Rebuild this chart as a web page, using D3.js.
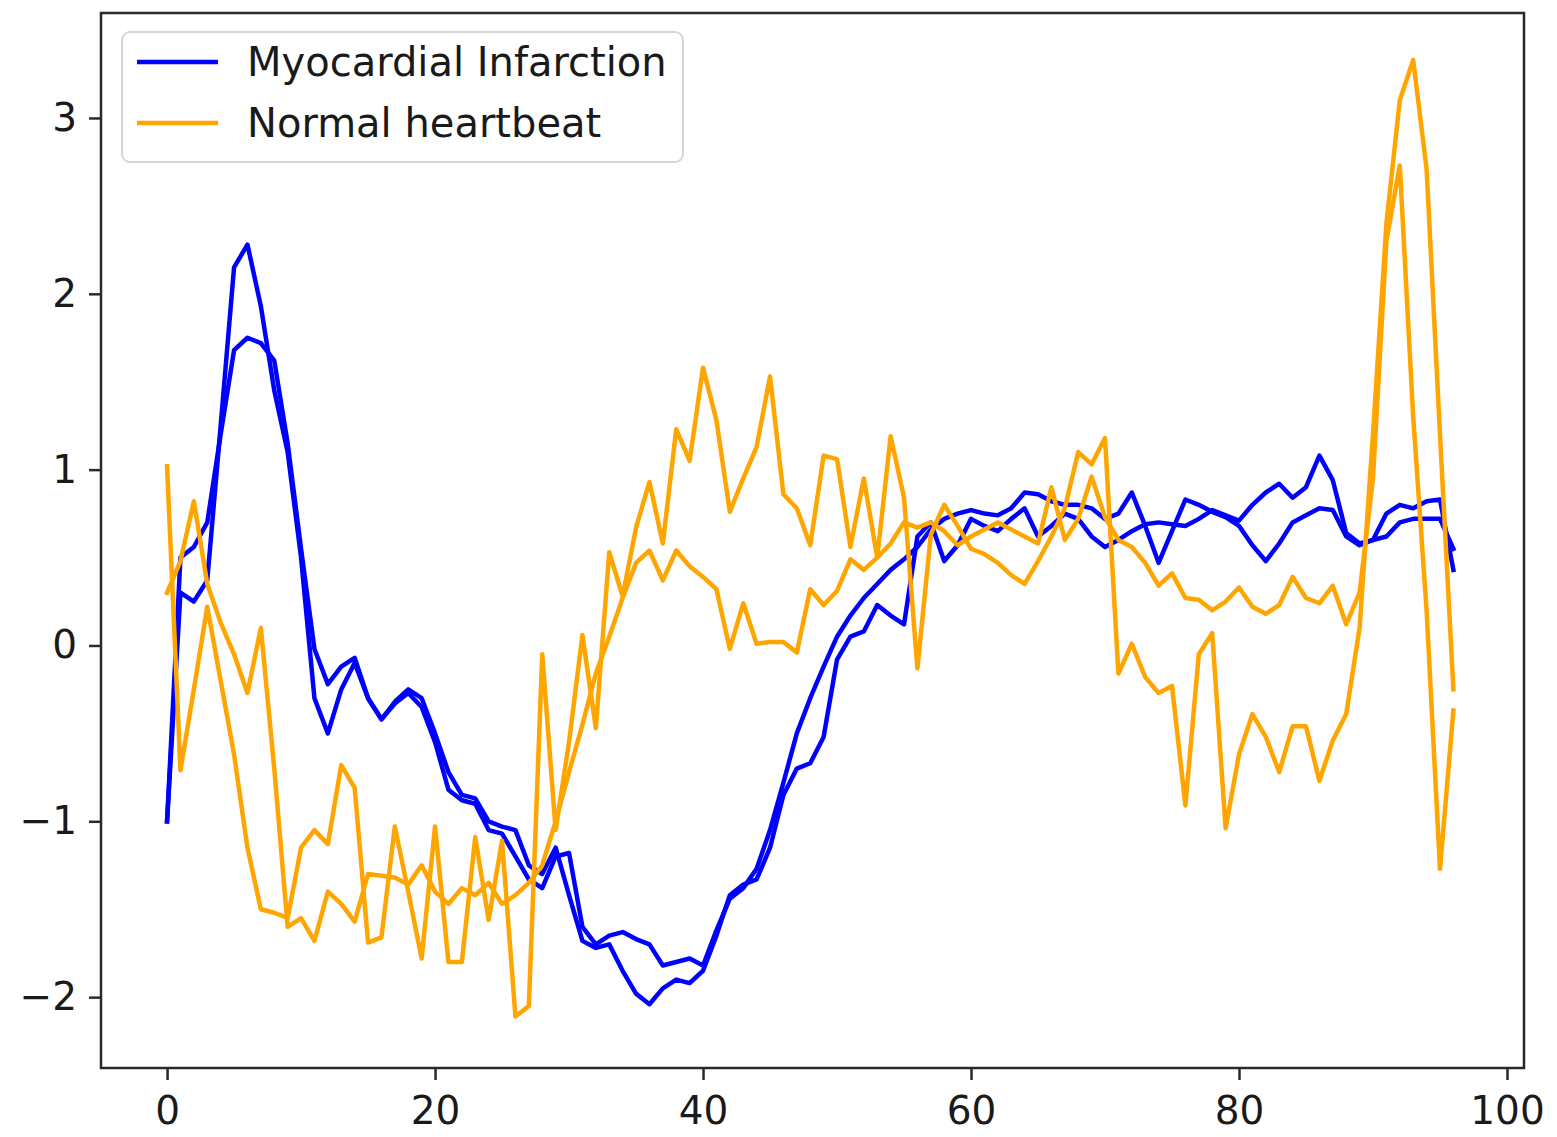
<!DOCTYPE html>
<html>
<head>
<meta charset="utf-8">
<script src="https://cdn.jsdelivr.net/npm/d3@7"></script>
<style>
  html, body { margin: 0; padding: 0; background: #fff; }
  svg { display: block; }
  text { font-family: "DejaVu Sans", sans-serif; fill: #1a1a1a; }
</style>
</head>
<body>
<svg id="chart" width="1557" height="1137"></svg>
<script>
// ---- data ----
const seriesNames = ["Myocardial Infarction", "Normal heartbeat"];
const seriesColors = ["blue", "orange"];

const miSample1 = [-1.0,0.3,0.25,0.37,1.25,2.15,2.28,1.93,1.45,1.1,
  0.5,-0.3,-0.5,-0.25,-0.1,-0.3,-0.42,-0.33,-0.27,-0.35,
  -0.55,-0.82,-0.88,-0.9,-1.05,-1.07,-1.2,-1.33,-1.38,-1.2,
  -1.18,-1.6,-1.7,-1.65,-1.63,-1.67,-1.7,-1.82,-1.8,-1.78,
  -1.82,-1.62,-1.44,-1.38,-1.27,-1.05,-0.78,-0.5,-0.3,-0.12,
  0.05,0.17,0.27,0.35,0.43,0.49,0.56,0.66,0.72,0.75,
  0.77,0.75,0.74,0.78,0.87,0.86,0.82,0.8,0.8,0.78,
  0.72,0.75,0.87,0.68,0.47,0.65,0.83,0.8,0.76,0.73,
  0.68,0.57,0.48,0.58,0.7,0.74,0.78,0.77,0.62,0.57,
  0.6,0.62,0.7,0.72,0.72,0.72,0.55];

const miSample2 = [-1.0,0.5,0.56,0.7,1.2,1.68,1.75,1.72,1.62,1.15,
  0.55,-0.02,-0.22,-0.12,-0.07,-0.3,-0.42,-0.32,-0.25,-0.3,
  -0.5,-0.72,-0.85,-0.87,-1.0,-1.03,-1.05,-1.25,-1.3,-1.15,
  -1.42,-1.68,-1.72,-1.7,-1.85,-1.98,-2.04,-1.95,-1.9,-1.92,
  -1.85,-1.65,-1.42,-1.36,-1.33,-1.15,-0.85,-0.7,-0.67,-0.52,
  -0.08,0.05,0.08,0.23,0.17,0.12,0.62,0.7,0.48,0.57,
  0.72,0.68,0.65,0.72,0.78,0.62,0.68,0.75,0.72,0.62,
  0.56,0.6,0.65,0.69,0.7,0.69,0.68,0.72,0.77,0.74,
  0.71,0.8,0.87,0.92,0.84,0.9,1.08,0.94,0.64,0.58,
  0.6,0.75,0.8,0.78,0.82,0.83,0.43];

const normalSample1 = [1.02,-0.71,-0.25,0.22,-0.2,-0.62,-1.15,-1.5,-1.52,-1.55,
  -1.15,-1.05,-1.13,-0.68,-0.81,-1.69,-1.66,-1.03,-1.4,-1.78,
  -1.03,-1.8,-1.8,-1.09,-1.56,-1.11,-2.11,-2.05,-0.05,-1.05,
  -0.55,0.06,-0.47,0.53,0.28,0.67,0.93,0.58,1.23,1.05,
  1.58,1.28,0.76,0.95,1.13,1.53,0.86,0.78,0.57,1.08,
  1.06,0.56,0.95,0.5,1.19,0.84,-0.13,0.63,0.8,0.68,
  0.55,0.52,0.47,0.4,0.35,0.48,0.62,0.78,1.1,1.03,
  1.18,-0.16,0.01,-0.18,-0.27,-0.23,-0.91,-0.05,0.07,-1.04,
  -0.62,-0.39,-0.52,-0.72,-0.46,-0.46,-0.77,-0.54,-0.39,0.1,
  1.2,2.4,3.1,3.33,2.71,1.2,-0.25];

const normalSample2 = [0.3,0.48,0.82,0.35,0.13,-0.05,-0.27,0.1,-0.7,-1.6,
  -1.55,-1.68,-1.4,-1.47,-1.57,-1.3,-1.31,-1.32,-1.36,-1.25,
  -1.4,-1.47,-1.38,-1.42,-1.35,-1.47,-1.42,-1.35,-1.25,-1.0,
  -0.72,-0.45,-0.16,0.05,0.27,0.47,0.54,0.37,0.54,0.45,
  0.39,0.32,-0.02,0.24,0.01,0.02,0.02,-0.04,0.32,0.23,
  0.31,0.49,0.43,0.5,0.58,0.7,0.67,0.7,0.65,0.57,
  0.62,0.66,0.7,0.66,0.62,0.58,0.9,0.6,0.72,0.96,
  0.73,0.6,0.56,0.47,0.34,0.41,0.27,0.26,0.2,0.25,
  0.33,0.22,0.18,0.23,0.39,0.27,0.24,0.34,0.12,0.3,
  0.95,2.3,2.73,1.3,0.2,-1.27,-0.37];

const xTicks = [0, 20, 40, 60, 80, 100];
const yTicks = [-2, -1, 0, 1, 2, 3];

// ---- layout ----
const plot = { left: 101, right: 1524, top: 13, bottom: 1068 };
const fontSize = 39;
const svg = d3.select("#chart");

const x = d3.scaleLinear().domain([-4.93, 101.27]).range([plot.left, plot.right]);
const y = d3.scaleLinear().domain([-2.403, 3.597]).range([plot.bottom, plot.top]);

const lines = [
  { values: miSample1, color: seriesColors[0] },
  { values: miSample2, color: seriesColors[0] },
  { values: normalSample1, color: seriesColors[1] },
  { values: normalSample2, color: seriesColors[1] }
];

const lineGen = d3.line().x((d, i) => x(i)).y(d => y(d));

const clipId = "plotclip";
svg.append("defs").append("clipPath").attr("id", clipId)
  .append("rect").attr("x", plot.left).attr("y", plot.top)
  .attr("width", plot.right - plot.left).attr("height", plot.bottom - plot.top);

svg.append("g").attr("clip-path", `url(#${clipId})`)
  .selectAll("path").data(lines).join("path")
  .attr("d", d => lineGen(d.values))
  .attr("fill", "none")
  .attr("stroke", d => d.color)
  .attr("stroke-width", 4.5)
  .attr("stroke-linejoin", "round")
  .attr("stroke-linecap", "square");

// axes
const fmt = d => d < 0 ? "\u2212" + Math.abs(d) : String(d);

const xAxis = d3.axisBottom(x).tickValues(xTicks).tickFormat(fmt).tickSize(12).tickPadding(16);
const gx = svg.append("g").attr("transform", `translate(0,${plot.bottom})`).call(xAxis);
gx.select(".domain").remove();
gx.selectAll(".tick line").attr("stroke", "#2a2a2a").attr("stroke-width", 2.5);
gx.selectAll(".tick text").attr("font-size", fontSize).attr("font-family", "DejaVu Sans").attr("fill", "#1a1a1a");

const yAxis = d3.axisLeft(y).tickValues(yTicks).tickFormat(fmt).tickSize(12).tickPadding(12);
const gy = svg.append("g").attr("transform", `translate(${plot.left},0)`).call(yAxis);
gy.select(".domain").remove();
gy.selectAll(".tick line").attr("stroke", "#2a2a2a").attr("stroke-width", 2.5);
gy.selectAll(".tick text").attr("font-size", fontSize).attr("font-family", "DejaVu Sans").attr("fill", "#1a1a1a");

// frame
svg.append("rect")
  .attr("x", plot.left).attr("y", plot.top)
  .attr("width", plot.right - plot.left).attr("height", plot.bottom - plot.top)
  .attr("fill", "none").attr("stroke", "#2a2a2a").attr("stroke-width", 2.5);

// legend
const lg = svg.append("g");
lg.append("rect")
  .attr("x", 122).attr("y", 32).attr("width", 561).attr("height", 130)
  .attr("rx", 8).attr("fill", "#fff").attr("fill-opacity", 0.8)
  .attr("stroke", "#d6d6d6").attr("stroke-width", 2);
seriesNames.forEach((name, k) => {
  const yy = 62 + k * 61;
  lg.append("line").attr("x1", 137).attr("x2", 218).attr("y1", yy).attr("y2", yy)
    .attr("stroke", seriesColors[k]).attr("stroke-width", 4.5);
  lg.append("text").attr("x", 247).attr("y", yy).attr("dy", "0.35em")
    .attr("font-size", 40).text(name);
});
</script>
</body>
</html>
